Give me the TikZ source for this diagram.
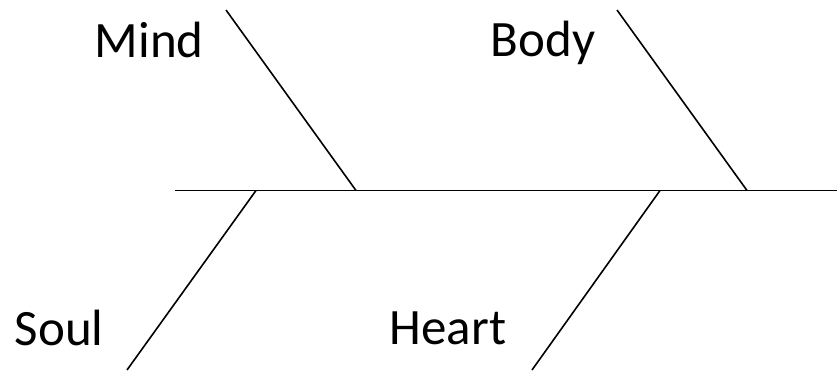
\documentclass[tikz,border=0pt]{standalone}
\usepackage{fontspec}
\setmainfont{Carlito}
\begin{document}
\begin{tikzpicture}[x=1pt,y=-1pt,line width=1.6pt,
    label/.style={anchor=base west,inner sep=0pt,font=\fontsize{51}{60}\selectfont}]
			\useasboundingbox (0,0) rectangle (837,370);
			% spine
			\coordinate (tail) at (175,190.5);
			\coordinate (head) at (837,190.5);
			\draw (tail)--(head);
			% upper bones
			\coordinate (mindtop) at (226,10);
			\coordinate (mindend) at (356,190.5);
			\coordinate (bodytop) at (617,10);
			\coordinate (bodyend) at (747,190.5);
			\draw (mindtop)--(mindend);
			\draw (bodytop)--(bodyend);
			% lower bones
			\coordinate (soulend) at (256,190.5);
			\coordinate (soulbot) at (127,370);
			\coordinate (heartend) at (660,190.5);
			\coordinate (heartbot) at (532,370);
			\draw (soulend)--(soulbot);
			\draw (heartend)--(heartbot);
			% labels
			\node[label] (mind) at (94,57) {Mind};
			\node[label] (body) at (490,56) {Body};
			\node[label] (soul) at (14,345) {Soul};
			\node[label] (heart) at (389,344.5) {Heart};
		\end{tikzpicture}
\end{document}
